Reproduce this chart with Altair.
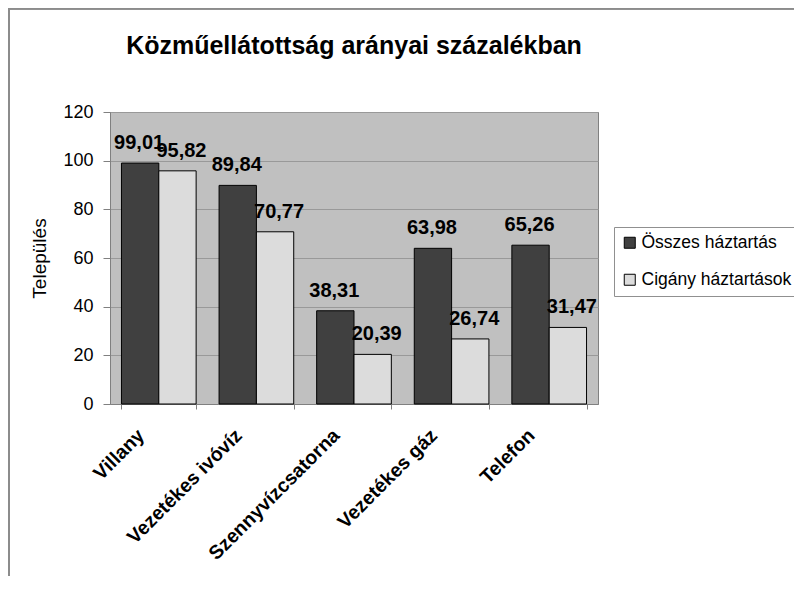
import altair as alt
import pandas as pd

categories = ["Villany", "Vezetékes ivóvíz", "Szennyvízcsatorna", "Vezetékes gáz", "Telefon"]
series = ["Összes háztartás", "Cigány háztartások"]
osszes = [99.01, 89.84, 38.31, 63.98, 65.26]
cigany = [95.82, 70.77, 20.39, 26.74, 31.47]
y_ticks = [0, 20, 40, 60, 80, 100, 120]

rows = []
for i, c in enumerate(categories):
    for s, vals in zip(series, [osszes, cigany]):
        v = vals[i]
        rows.append({"cat": c, "series": s, "value": v,
                     "label": f"{v:.2f}".replace(".", ",")})
df = pd.DataFrame(rows)

FONT = "Liberation Sans"

x_enc = alt.X("cat:N", sort=categories,
              scale=alt.Scale(paddingInner=0.235, paddingOuter=0.1175),
              axis=alt.Axis(title=None, labelAngle=-45, labelAlign="right",
                            labelBaseline="middle", labelFontSize=19.5,
                            labelFontWeight="bold", labelPadding=23, labelOffset=-18,
                            labelColor="black", tickBand="extent", tickSize=5,
                            tickColor="#808080", domainColor="#808080", grid=False))
xo_enc = alt.XOffset("series:N", sort=series,
                     scale=alt.Scale(domain=series, paddingInner=0, paddingOuter=0))
y_enc = alt.Y("value:Q", scale=alt.Scale(domain=[0, 120], nice=False),
              axis=alt.Axis(values=y_ticks, title="Település", titleAngle=-90,
                            titleX=-71, titleY=146, titleAlign="center",
                            titleBaseline="middle", titleFontWeight="normal",
                            titleFontSize=19, titleColor="black",
                            labelFontSize=18, labelColor="black", labelPadding=10,
                            tickSize=7, tickColor="#808080", domainColor="#808080",
                            gridColor="#999999"))

bars = alt.Chart(df).mark_bar(stroke="black", strokeWidth=1).encode(
    x=x_enc, xOffset=xo_enc, y=y_enc,
    color=alt.Color("series:N", sort=series,
                    scale=alt.Scale(domain=series, range=["#404040", "#dcdcdc"]),
                    legend=alt.Legend(title=None, orient="none", legendX=504, legendY=115,
                                      strokeColor="#909090", padding=7,
                                      symbolType="square", symbolSize=121,
                                      symbolStrokeColor="black", symbolStrokeWidth=1,
                                      labelFontSize=17.5, labelColor="black",
                                      rowPadding=18, labelOffset=3)),
)

labels_dark = alt.Chart(df).transform_filter(
    alt.datum.series == series[0]
).mark_text(fontSize=20, fontWeight="bold", baseline="bottom", dy=-10, dx=-1,
            color="black", font=FONT).encode(
    x=x_enc, xOffset=xo_enc, y=y_enc, text="label:N")

labels_light = alt.Chart(df).transform_filter(
    alt.datum.series == series[1]
).mark_text(fontSize=20, fontWeight="bold", baseline="bottom", dy=-10, dx=4,
            color="black", font=FONT).encode(
    x=x_enc, xOffset=xo_enc, y=y_enc, text="label:N")

frame_top = alt.Chart(df).mark_rule(color="#8c8c8c", strokeWidth=1.5).encode(
    x=alt.value(-102), x2=alt.value(700), y=alt.value(-103.5))
frame_left = alt.Chart(df).mark_rule(color="#8c8c8c", strokeWidth=1.5).encode(
    x=alt.value(-101), y=alt.value(-104), y2=alt.value(480))

chart = alt.layer(bars, labels_dark, labels_light, frame_top, frame_left).properties(
    width=488, height=292,
    autosize=alt.AutoSizeParams(type="none"),
    padding={"left": 102, "top": 104, "right": 196, "bottom": 172},
    title=alt.Title("Közműellátottság arányai százalékban", fontSize=25,
                    fontWeight="bold", font=FONT, anchor="middle", frame="group",
                    baseline="alphabetic", offset=0, dy=72, color="black"),
).configure(font=FONT).configure_view(fill="#c0c0c0", stroke="#808080")

chart.save("out.html", embed_options={"renderer": "svg", "actions": False})
